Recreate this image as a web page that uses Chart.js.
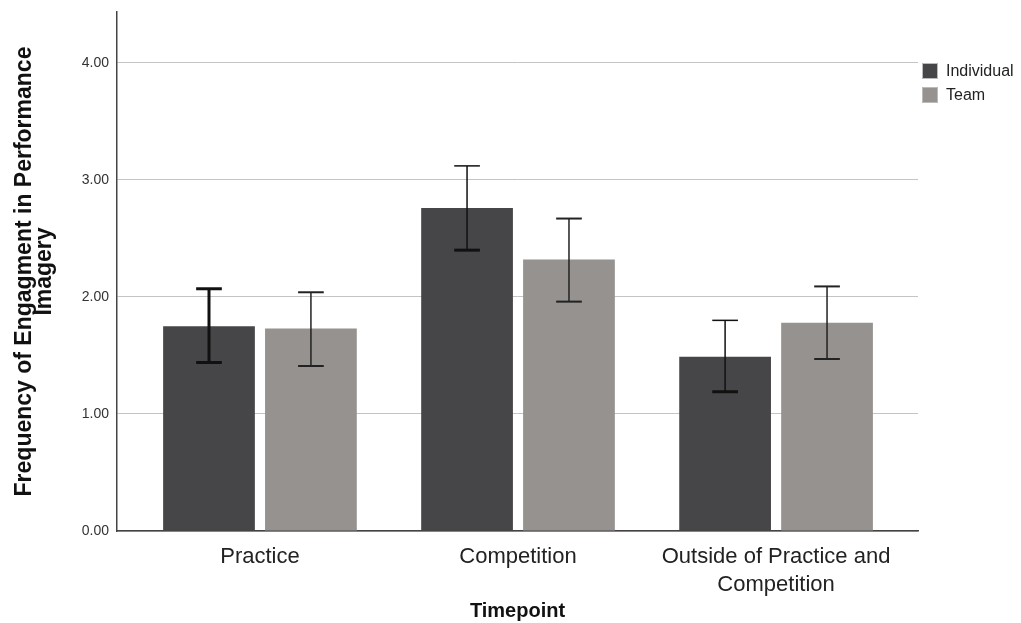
<!DOCTYPE html>
<html>
<head>
<meta charset="utf-8">
<script src="https://cdn.jsdelivr.net/npm/chart.js@4.4.1/dist/chart.umd.min.js"></script>
<style>
    body { margin: 0; background: #fff; }
    #wrap { position: relative; width: 1021px; height: 623px; }
    #legend { position: absolute; left: 922px; top: 59px; font-family: 'Liberation Sans', Arial, sans-serif; font-size: 16px; color: #222; }
    #legend .item { display: flex; align-items: center; height: 24px; }
    #legend .box { width: 16px; height: 16px; margin-right: 8px; border: 1px solid #bbb; box-sizing: border-box; }
</style>
</head>
<body>
<div id="wrap">
    <canvas id="chart" width="1021" height="623"></canvas>
    <div id="legend"></div>
</div>
<script>
const categories = ['Practice', 'Competition', ['Outside of Practice and', 'Competition']];
const seriesNames = ['Individual', 'Team'];
const individualMeans = [1.75, 2.76, 1.49];
const individualLow = [1.44, 2.40, 1.19];
const individualHigh = [2.07, 3.12, 1.80];
const teamMeans = [1.73, 2.32, 1.78];
const teamLow = [1.41, 1.96, 1.47];
const teamHigh = [2.04, 2.67, 2.09];
const yTicks = [0, 1, 2, 3, 4];

const FONT = "'Liberation Sans', Arial, sans-serif";
const colors = ['#464648', '#959290'];

function points(vals) {
    return vals.map((v, i) => ({ x: i, y: v }));
}

// draws the 95% CI whiskers on top of each bar
const errorBars = {
    id: 'errorBars',
    afterDatasetsDraw(chart) {
        const ctx = chart.ctx;
        const yScale = chart.scales.y;
        chart.data.datasets.forEach((ds, di) => {
            const meta = chart.getDatasetMeta(di);
            meta.data.forEach((bar, i) => {
                const top = yScale.getPixelForValue(ds.high[i]);
                const bottom = yScale.getPixelForValue(ds.low[i]);
                const half = bar.width * 0.14;
                ctx.save();
                ctx.strokeStyle = ds.errColor;
                ctx.lineWidth = ds.errLine[i];
                ctx.beginPath();
                ctx.moveTo(bar.x, top);
                ctx.lineTo(bar.x, bottom);
                ctx.stroke();
                ctx.lineWidth = ds.errTop[i];
                ctx.beginPath();
                ctx.moveTo(bar.x - half, top);
                ctx.lineTo(bar.x + half, top);
                ctx.stroke();
                ctx.lineWidth = ds.errBottom[i];
                ctx.beginPath();
                ctx.moveTo(bar.x - half, bottom);
                ctx.lineTo(bar.x + half, bottom);
                ctx.stroke();
                ctx.restore();
            });
        });
    }
};

const chart = new Chart(document.getElementById('chart'), {
    type: 'bar',
    data: {
        datasets: [{
            label: seriesNames[0],
            data: points(individualMeans),
            low: individualLow,
            high: individualHigh,
            backgroundColor: colors[0],
            errColor: '#111',
            errLine: [3, 1.5, 1.5],
            errTop: [3, 1.5, 1.5],
            errBottom: [3, 3, 3]
        }, {
            label: seriesNames[1],
            data: points(teamMeans),
            low: teamLow,
            high: teamHigh,
            backgroundColor: colors[1],
            errColor: '#222',
            errLine: [1.5, 1.5, 1.5],
            errTop: [2, 2, 2],
            errBottom: [2, 2, 2]
        }]
    },
    options: {
        responsive: false,
        animation: false,
        categoryPercentage: 0.79,
        barPercentage: 0.9,
        layout: { padding: { top: 12, right: 103, left: 0, bottom: 0 } },
        plugins: {
            legend: { display: false },
            tooltip: { enabled: false }
        },
        scales: {
            x: {
                type: 'linear',
                min: -0.554,
                max: 2.55,
                offset: false,
                afterBuildTicks(scale) {
                    scale.ticks = categories.map((c, i) => ({ value: i }));
                },
                afterFit(scale) {
                    scale.height = 92;
                    scale.paddingLeft = 0;
                    scale.paddingRight = 0;
                },
                grid: { display: false },
                border: { display: true, color: '#444', width: 1.5 },
                ticks: {
                    padding: 4,
                    color: '#222',
                    font: { family: FONT, size: 22, lineHeight: 1.27 },
                    maxRotation: 0,
                    autoSkip: false,
                    callback: (v) => categories[v]
                },
                title: {
                    display: true,
                    text: 'Timepoint',
                    color: '#111',
                    font: { family: FONT, size: 20, weight: 'bold' },
                    padding: { top: 0, bottom: 0 }
                }
            },
            y: {
                min: 0,
                max: 4.435,
                afterBuildTicks(scale) {
                    scale.ticks = yTicks.map(v => ({ value: v }));
                },
                afterFit(scale) {
                    scale.width = 117;
                    scale.paddingTop = 0;
                    scale.paddingBottom = 0;
                },
                grid: { color: '#c4c4c4', lineWidth: 1, drawTicks: false },
                border: { display: true, color: '#444', width: 1.5 },
                ticks: {
                    padding: 8,
                    color: '#333',
                    font: { family: FONT, size: 14 },
                    callback: (v) => v.toFixed(2)
                },
                title: {
                    display: true,
                    text: ['Frequency of Engagment in Performance', 'Imagery'],
                    color: '#111',
                    font: { family: FONT, size: 23, weight: 'bold', lineHeight: 0.9 },
                    padding: { top: 14, bottom: 0 }
                }
            }
        }
    },
    plugins: [errorBars]
});

const legend = document.getElementById('legend');
chart.data.datasets.forEach(ds => {
    const item = document.createElement('div');
    item.className = 'item';
    item.innerHTML = `<span class="box" style="background:${ds.backgroundColor}"></span><span>${ds.label}</span>`;
    legend.appendChild(item);
});
</script>
</body>
</html>
